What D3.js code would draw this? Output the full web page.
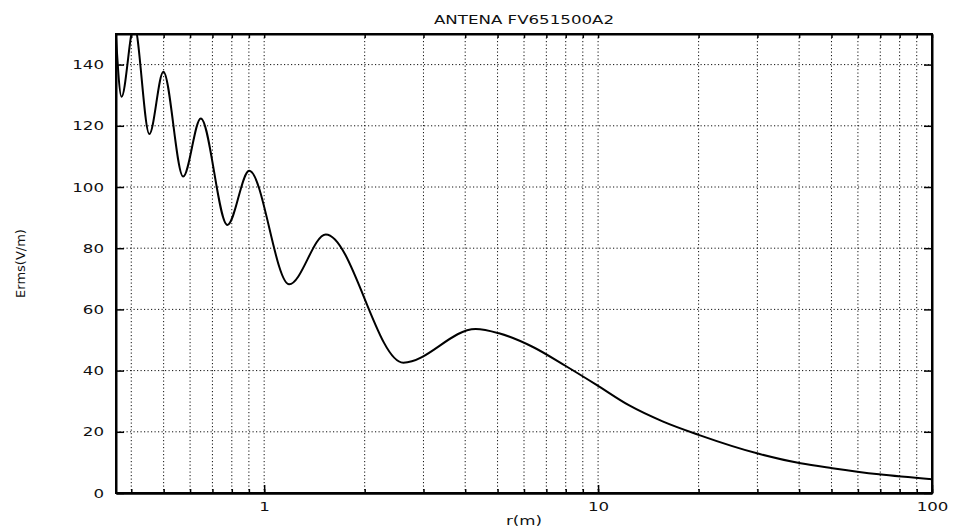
<!DOCTYPE html>
<html>
<head>
<meta charset="utf-8">
<script src="https://cdn.jsdelivr.net/npm/d3@7"></script>
<style>
	body { margin: 0; background: #fff; }
	text { font-family: "DejaVu Sans", sans-serif; fill: #111; }
</style>
</head>
<body>
<script>
//Chart data (extrema of the ripples, then the decay)
let rValues = [0.36, 0.374, 0.408, 0.453, 0.499, 0.572, 0.646, 0.776, 0.902, 1.188, 1.53, 2.61, 4.30, 5.05, 6.36, 8.0, 9.84, 12.4, 15.6, 20.0, 30.3, 40.4, 50.3, 69.4, 100];
let eValues = [149, 129.5, 153, 117.3, 137.7, 103.4, 122.4, 87.6, 105.3, 68.2, 84.5, 42.6, 53.6, 52.2, 47.8, 41.5, 35.5, 28.6, 23.4, 19.0, 12.8, 9.7, 8.1, 6.1, 4.5];
let xLabels = [1, 10, 100];
let yLabels = [0, 20, 40, 60, 80, 100, 120, 140];
let chartTitle = "ANTENA FV651500A2";
let xTitle = "r(m)";
let yTitle = "Erms(V/m)";

//SVG dimensions and plot box
let w = 955, h = 531;
let pLeft = 116, pRight = 932, pTop = 34, pBottom = 493;

let svg = d3.select("body")
	.append("svg")
	.attr("width", w)
	.attr("height", h);

//Scales
let x = d3.scaleLog()
	.domain([0.36, 100])
	.range([pLeft, pRight]);

let y = d3.scaleLinear()
	.domain([0, 150])
	.range([pBottom, pTop]);

//Dotted grid at every log tick and every y label
let gridX = x.ticks();

svg.append("g")
	.attr("class", "gridX")
	.selectAll("line")
	.data(gridX)
	.enter()
	.append("line")
	.attr("x1", d => x(d))
	.attr("x2", d => x(d))
	.attr("y1", pTop)
	.attr("y2", pBottom)
	.style("stroke", "#111")
	.style("stroke-width", 1)
	.style("stroke-dasharray", "1.2,2.3");

svg.append("g")
	.attr("class", "gridY")
	.selectAll("line")
	.data(yLabels.filter(d => d > 0))
	.enter()
	.append("line")
	.attr("x1", pLeft)
	.attr("x2", pRight)
	.attr("y1", d => y(d))
	.attr("y2", d => y(d))
	.style("stroke", "#111")
	.style("stroke-width", 1)
	.style("stroke-dasharray", "1.2,2.3");

//Clip the curve to the plot box
svg.append("clipPath")
	.attr("id", "plotClip")
	.append("rect")
	.attr("x", pLeft)
	.attr("y", pTop)
	.attr("width", pRight - pLeft)
	.attr("height", pBottom - pTop);

let line = d3.line()
	.x((d, i) => x(rValues[i]))
	.y(d => y(d))
	.curve(d3.curveMonotoneX);

svg.append("path")
	.datum(eValues)
	.attr("clip-path", "url(#plotClip)")
	.attr("d", line)
	.style("fill", "none")
	.style("stroke", "#000")
	.style("stroke-width", 2);

//Axes, ticks pointing inward
svg.append("g")
	.attr("class", "axis")
	.attr("transform", "translate(0," + pBottom + ")")
	.call(d3.axisBottom(x).tickValues(xLabels).tickSizeInner(-8).tickSizeOuter(0).tickPadding(9).tickFormat(d3.format("d")));

svg.append("g")
	.attr("class", "axis")
	.attr("transform", "translate(0," + pBottom + ")")
	.call(d3.axisBottom(x).tickValues(gridX).tickSizeInner(-4).tickSizeOuter(0).tickFormat(""));

svg.append("g")
	.attr("class", "axis")
	.attr("transform", "translate(0," + pTop + ")")
	.call(d3.axisTop(x).tickValues(gridX).tickSizeInner(-4).tickSizeOuter(0).tickFormat(""));

svg.append("g")
	.attr("class", "axis")
	.attr("transform", "translate(" + pLeft + ",0)")
	.call(d3.axisLeft(y).tickValues(yLabels).tickSizeInner(-8).tickSizeOuter(0).tickPadding(12));

svg.append("g")
	.attr("class", "axis")
	.attr("transform", "translate(" + pRight + ",0)")
	.call(d3.axisRight(y).tickValues(yLabels).tickSizeInner(-8).tickSizeOuter(0).tickFormat(""));

//Frame lines
svg.append("rect")
	.attr("x", pLeft)
	.attr("y", pTop)
	.attr("width", pRight - pLeft)
	.attr("height", pBottom - pTop)
	.style("fill", "none")
	.style("stroke", "#000")
	.style("stroke-width", 2);

svg.selectAll(".axis path").style("stroke", "#000").style("stroke-width", 2);
svg.selectAll(".axis line").style("stroke", "#000").style("stroke-width", 1.5);
svg.selectAll(".axis text").style("font-size", "13px").style("font-family", "DejaVu Sans, sans-serif").style("fill", "#111");

//Titles
svg.append("text")
	.attr("class", "wide")
	.attr("x", (pLeft + pRight) / 2)
	.attr("y", 24)
	.attr("text-anchor", "middle")
	.style("font-size", "13px")
	.text(chartTitle);

svg.append("text")
	.attr("class", "wide")
	.attr("x", (pLeft + pRight) / 2)
	.attr("y", 525)
	.attr("text-anchor", "middle")
	.style("font-size", "13px")
	.text(xTitle);

svg.append("text")
	.attr("transform", "translate(25," + ((pTop + pBottom) / 2) + ") rotate(-90)")
	.attr("text-anchor", "middle")
	.style("font-size", "13px")
	.text(yTitle);

//The scan's lettering is wide, stretch the horizontal texts
svg.selectAll(".wide, .axis text").each(function(){
	let len = this.getComputedTextLength();
	if (len > 0) {
		d3.select(this)
			.attr("textLength", len * 1.28)
			.attr("lengthAdjust", "spacingAndGlyphs");
	}
});
</script>
</body>
</html>
